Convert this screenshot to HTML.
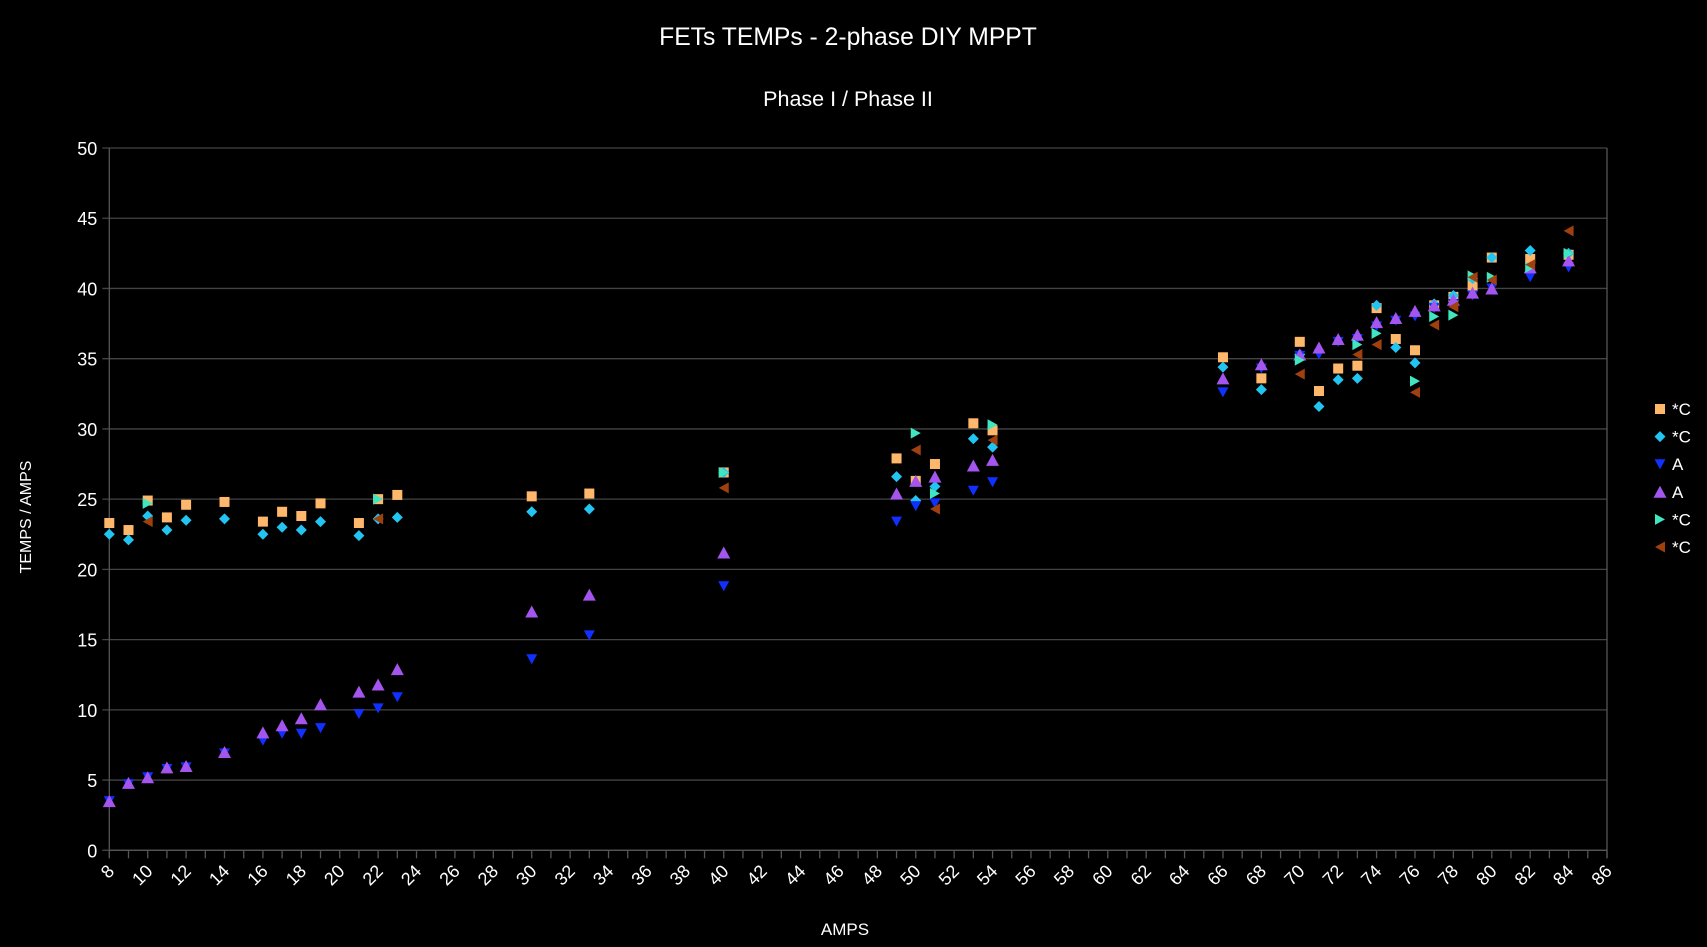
<!DOCTYPE html>
<html><head><meta charset="utf-8"><style>
html,body{margin:0;padding:0;background:#000;}
svg{display:block;font-family:"Liberation Sans",sans-serif;}
</style></head><body>
<svg id="c" width="1707" height="947" xmlns="http://www.w3.org/2000/svg"></svg>
<script>
const s=document.getElementById('c');
const L=109.3,R=1607,T=148,B=850.3;
const X=a=>L+(a-8)*(R-L)/78, Y=v=>B-v*(B-T)/50;
let h='';
h+=`<text x="848" y="45" fill="#fff" font-size="24.7" text-anchor="middle">FETs TEMPs - 2-phase DIY MPPT</text>`;
h+=`<text x="848" y="106" fill="#fff" font-size="21.5" text-anchor="middle">Phase I / Phase II</text>`;
for(let v=0;v<=50;v+=5){h+=`<line x1="${L-7}" x2="${R}" y1="${Y(v)}" y2="${Y(v)}" stroke="#444" stroke-width="1.3"/>`;
h+=`<text x="${L-12}" y="${Y(v)+7}" fill="#fff" font-size="18" text-anchor="end">${v}</text>`;}
h+=`<line x1="${L}" x2="${L}" y1="${T}" y2="${B+8}" stroke="#555" stroke-width="1.3"/>`;
h+=`<line x1="${R}" x2="${R}" y1="${T}" y2="${B+8}" stroke="#555" stroke-width="1.3"/>`;
h+=`<line x1="${L}" x2="${R}" y1="${B}" y2="${B}" stroke="#555" stroke-width="1.3"/>`;
for(let a=8;a<=86;a++){h+=`<line x1="${X(a)}" x2="${X(a)}" y1="${B}" y2="${B+8}" stroke="#555" stroke-width="1.3"/>`;
 if(a%2==0){const x=X(a)+6,y=B+22;h+=`<text x="${x}" y="${y}" fill="#fff" font-size="18" text-anchor="end" transform="rotate(-45 ${x} ${y})">${a}</text>`;}}
h+=`<text x="845" y="935" fill="#fff" font-size="17" text-anchor="middle">AMPS</text>`;
h+=`<text x="0" y="0" fill="#fff" font-size="16" text-anchor="middle" transform="translate(31 517) rotate(-90)">TEMPS / AMPS</text>`;
const A=[8,9,10,11,12,14,16,17,18,19,21,22,23,30,33,40,49,50,51,53,54,66,68,70,71,72,73,74,75,76,77,78,79,80,82,84];
const s1=[23.3,22.8,24.9,23.7,24.6,24.8,23.4,24.1,23.8,24.7,23.3,25.0,25.3,25.2,25.4,26.9,27.9,26.3,27.5,30.4,29.9,35.1,33.6,36.2,32.7,34.3,34.5,38.6,36.4,35.6,38.8,39.4,40.2,42.2,42.1,42.4];
const s2=[22.5,22.1,23.8,22.8,23.5,23.6,22.5,23.0,22.8,23.4,22.4,23.6,23.7,24.1,24.3,26.9,26.6,24.9,25.9,29.3,28.7,34.4,32.8,35.3,31.6,33.5,33.6,38.8,35.8,34.7,38.9,39.5,40.7,42.2,42.7,42.5];
const s3=[3.5,4.7,5.2,5.8,5.9,6.9,7.8,8.3,8.3,8.7,9.7,10.1,10.9,13.6,15.3,18.8,23.4,24.5,24.7,25.6,26.2,32.6,34.3,35.2,35.3,36.2,36.4,37.3,37.7,38.0,38.6,38.9,39.5,40.0,40.8,41.5];
const s4=[3.5,4.8,5.2,5.9,6.0,7.0,8.4,8.9,9.4,10.4,11.3,11.8,12.9,17.0,18.2,21.2,25.4,26.3,26.6,27.4,27.8,33.6,34.6,35.3,35.8,36.4,36.7,37.6,37.9,38.4,38.8,39.2,39.7,40.0,41.5,42.0];
const A5=[10,22,40,50,51,54,70,73,74,76,77,78,79,80,82,84];
const s5=[24.7,25.0,26.9,29.7,25.4,30.3,34.9,36.0,36.8,33.4,38.0,38.1,40.9,40.8,41.5,42.5];
const s6=[23.4,23.6,25.8,28.5,24.3,29.2,33.9,35.3,36.0,32.6,37.4,38.7,40.8,40.6,41.7,44.1];
const C=['#ffb86b','#22c4f2','#1030ff','#a455ee','#3fe6bf','#a0400f'];
function m(t,x,y,c){
 if(t==0)return `<rect x="${x-5}" y="${y-5}" width="10" height="10" fill="${c}"/>`;
 if(t==1)return `<polygon points="${x},${y-5.5} ${x+5.5},${y} ${x},${y+5.5} ${x-5.5},${y}" fill="${c}"/>`;
 if(t==2)return `<polygon points="${x-5.5},${y-5} ${x+5.5},${y-5} ${x},${y+5}" fill="${c}"/>`;
 if(t==3)return `<polygon points="${x-6.5},${y+6} ${x+6.5},${y+6} ${x},${y-6}" fill="${c}"/>`;
 if(t==4)return `<polygon points="${x-5},${y-5.5} ${x-5},${y+5.5} ${x+5},${y}" fill="${c}"/>`;
 return `<polygon points="${x+5},${y-5.5} ${x+5},${y+5.5} ${x-5},${y}" fill="${c}"/>`;}
[[A,s1],[A,s2],[A,s3],[A,s4],[A5,s5],[A5,s6]].forEach((p,i)=>{p[0].forEach((a,j)=>{h+=m(i,X(a),Y(p[1][j]),C[i]);});});
const lab=['*C','*C','A','A','*C','*C'];
lab.forEach((t,i)=>{const y=409+i*27.6;h+=m(i,1660,y,C[i]);h+=`<text x="1672" y="${y+6}" fill="#fff" font-size="17">${t}</text>`;});
s.innerHTML=h;
</script>
</body></html>
